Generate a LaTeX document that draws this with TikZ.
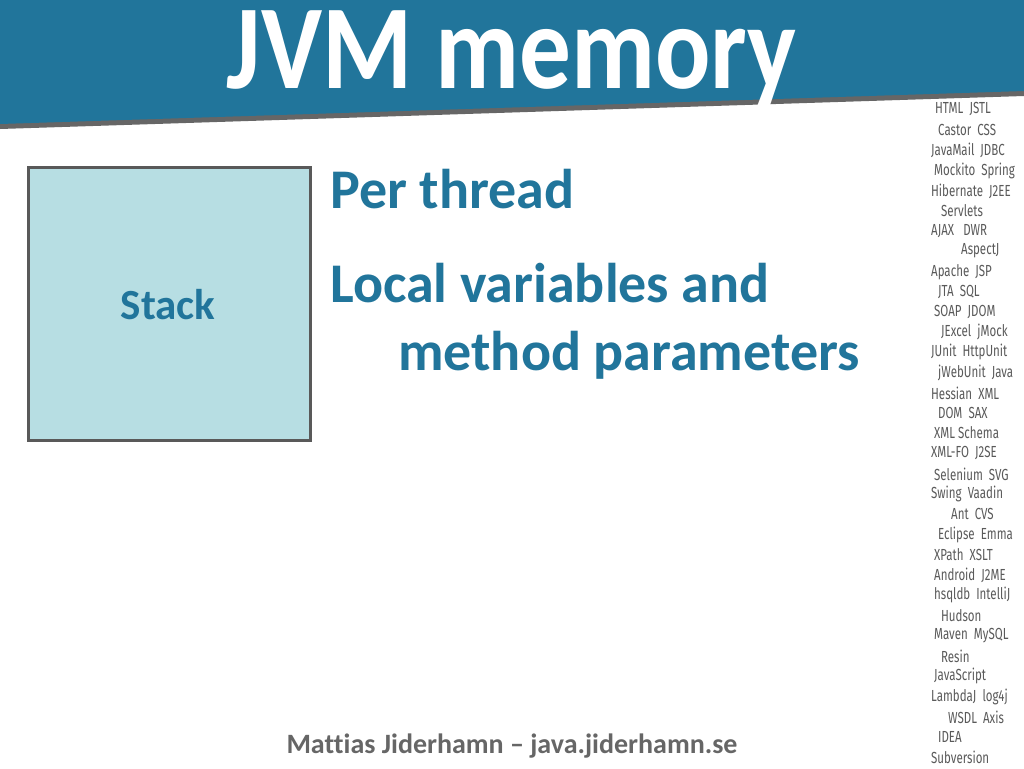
\documentclass[tikz,border=0pt]{standalone}
\usepackage{fontspec}
\setmainfont{Carlito}[Ligatures=NoCommon]
\newfontfamily\cloudfont{Fira Sans}
\definecolor{jblue}{HTML}{21759B}
\definecolor{stackfill}{HTML}{B7DEE3}
\definecolor{cloudgray}{HTML}{5A5A5A}
\begin{document}
\begin{tikzpicture}[x=1pt,y=-1pt,
  cloud/.style={anchor=west,inner sep=0pt,text=cloudgray,font=\cloudfont\fontsize{16}{16}\selectfont,xscale=0.72},
  blue text/.style={anchor=base west,inner sep=0pt,text=jblue,font=\bfseries\fontsize{56}{56}\selectfont}]
\useasboundingbox (0,0) rectangle (1024,768);
\fill[white] (0,0) rectangle (1024,768);
\fill[gray!80!black] (0,0) -- (1024,0) -- (1024,96) -- (0,129) -- cycle;
\fill[jblue] (0,0) -- (1024,0) -- (1024,91) -- (0,124) -- cycle;
\node[inner sep=0pt,anchor=base,text=white,font=\bfseries\fontsize{120}{120}\selectfont,xscale=0.86] (title) at (512,88) {JVM memory};
\node[draw=gray!70!black,line width=3pt,fill=stackfill,minimum width=282pt,minimum height=273pt,inner sep=0pt] (stack) at (169,303.5) {};
\node[inner sep=0pt,text=jblue,font=\bfseries\fontsize{43}{43}\selectfont] (stacklbl) at (168,305) {Stack};
\node[blue text] (per) at (330,208) {Per thread};
\node[blue text] (local) at (330,302) {Local variables and};
\node[blue text] (method) at (398,370) {method parameters};
\node[inner sep=0pt,text=gray!80!black,font=\bfseries\fontsize{28}{28}\selectfont] (footer) at (512,746) {Mattias Jiderhamn – java.jiderhamn.se};
\foreach \x/\y/\t [count=\i] in {935/109/HTML\ \ JSTL,938/130/Castor\ \ CSS,931/150/JavaMail\ \ JDBC,934/171/Mockito\ \ Spring,931/191/Hibernate\ \ J2EE,941/211/Servlets,931/231/AJAX\ \ \ DWR,961/251/AspectJ,931/272/Apache\ \ JSP,938/292/JTA\ \ SQL,934/312/SOAP\ \ JDOM,941/332/JExcel\ \ jMock,931/352/JUnit\ \ HttpUnit,938/373/jWebUnit\ \ Java,931/393/Hessian\ \ XML,938/413/DOM\ \ SAX,934/433/XML Schema,931/453/XML-FO\ \ J2SE,934/474/Selenium\ \ SVG,931/494/Swing\ \ Vaadin,951/514/Ant\ \ CVS,938/535/Eclipse\ \ Emma,934/555/XPath\ \ XSLT,934/575/Android\ \ J2ME,934/595/hsqldb\ \ IntelliJ,941/616/Hudson,934/636/Maven\ \ MySQL,941/656/Resin,934/676/JavaScript,931/697/LambdaJ\ \ log4j,948/717/WSDL\ \ Axis,938/737/IDEA,931/757/Subversion}
  \node[cloud] (w\i) at (\x,\y) {\t};
\end{tikzpicture}
\end{document}
